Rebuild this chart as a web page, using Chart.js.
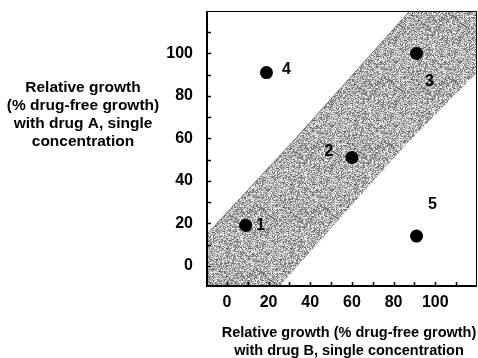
<!DOCTYPE html>
<html>
<head>
<meta charset="utf-8">
<script src="https://cdn.jsdelivr.net/npm/chart.js@4/dist/chart.umd.min.js"></script>
<style>
  html, body { margin: 0; padding: 0; background: #fff; }
  canvas { display: block; }
</style>
</head>
<body>
<canvas id="myChart" width="478" height="358"></canvas>
<script>
// ---- data ----
const pointNames = ['1', '2', '3', '4', '5'];
const pointX = [9, 60, 91, 19, 91];
const pointY = [19, 51, 100, 91, 14];

// shaded band (edges of the gray strip)
const bandX = [-10, 33, 85, 120];
const bandUpper = [14.4, 60, 117, 155];
const bandLower = [-48.7, -1.1, 56.2, 91];

const xTickLabels = [0, 20, 40, 60, 80, 100];
const yTickLabels = [0, 20, 40, 60, 80, 100];
const minorTicks = [0, 10, 20, 30, 40, 50, 60, 70, 80, 90, 100, 110];

const xTitle = ['Relative growth (% drug-free growth)', 'with drug B, single concentration'];
const yTitle = ['Relative growth', '(% drug-free growth)', 'with drug A, single', 'concentration'];

// ---- style ----
const labelOffsets = [[15, 0], [-23, -6], [13, 28], [20, -3], [16, -31]];
const fontFamily = '"Liberation Sans", Arial, Helvetica, sans-serif';

// stipple texture for the band
function makeStipple() {
    const c = document.createElement('canvas');
    c.width = 64; c.height = 64;
    const g = c.getContext('2d');
    const img = g.createImageData(64, 64);
    for (let y = 0; y < 64; y++) {
        for (let x = 0; x < 64; x++) {
            let h = (x * 374761393 + y * 668265263) >>> 0;
            h = ((h ^ (h >>> 13)) * 1274126177) >>> 0;
            const v = 100 + (h % 156);
            const i = (y * 64 + x) * 4;
            img.data[i] = v; img.data[i + 1] = v; img.data[i + 2] = v; img.data[i + 3] = 255;
        }
    }
    g.putImageData(img, 0, 0);
    return g.createPattern(c, 'repeat');
}

function noPadding(s) {
    s.paddingTop = 0; s.paddingBottom = 0; s.paddingLeft = 0; s.paddingRight = 0;
}

// box, inward ticks, point numbers, titles
const decorations = {
    id: 'decorations',
    afterDatasetsDraw(chart) {
        const ctx = chart.ctx;
        const a = chart.chartArea;
        const xs = chart.scales.x, ys = chart.scales.y;
        ctx.save();
        ctx.strokeStyle = '#000';

        // ticks pointing into the plot
        ctx.lineWidth = 1.5;
        minorTicks.forEach(v => {
            const px = Math.round(xs.getPixelForValue(v)) + 0.5;
            ctx.beginPath(); ctx.moveTo(px, a.bottom); ctx.lineTo(px, a.bottom - 5); ctx.stroke();
            const py = Math.round(ys.getPixelForValue(v)) + 0.5;
            ctx.beginPath(); ctx.moveTo(a.left, py); ctx.lineTo(a.left + 5, py); ctx.stroke();
        });

        // frame
        ctx.lineWidth = 1;
        ctx.beginPath(); ctx.moveTo(a.left, a.top + 0.5); ctx.lineTo(a.right, a.top + 0.5); ctx.stroke();
        ctx.beginPath(); ctx.moveTo(a.right - 0.5, a.top); ctx.lineTo(a.right - 0.5, a.bottom); ctx.stroke();
        ctx.lineWidth = 2;
        ctx.beginPath(); ctx.moveTo(a.left + 1, a.top); ctx.lineTo(a.left + 1, a.bottom); ctx.stroke();
        ctx.beginPath(); ctx.moveTo(a.left, a.bottom - 1); ctx.lineTo(a.right, a.bottom - 1); ctx.stroke();

        // point numbers
        ctx.fillStyle = '#000';
        ctx.font = 'bold 16px ' + fontFamily;
        ctx.textAlign = 'center';
        ctx.textBaseline = 'middle';
        pointNames.forEach((n, i) => {
            const px = xs.getPixelForValue(pointX[i]) + labelOffsets[i][0];
            const py = ys.getPixelForValue(pointY[i]) + labelOffsets[i][1];
            ctx.fillText(n, px, py);
        });

        // horizontal y-axis title
        ctx.font = 'bold 15.5px ' + fontFamily;
        yTitle.forEach((t, i) => ctx.fillText(t, 83, 88 + i * 18));

        // x-axis title
        ctx.font = 'bold 14.5px ' + fontFamily;
        xTitle.forEach((t, i) => ctx.fillText(t, 349, 333 + i * 17.5));
        ctx.restore();
    }
};

const ctx = document.getElementById('myChart');

new Chart(ctx, {
    type: 'scatter',
    data: {
        datasets: [{
            data: pointX.map((x, i) => ({ x: x, y: pointY[i] })),
            pointRadius: 6.5,
            pointBackgroundColor: '#000',
            pointBorderColor: '#000',
            pointBorderWidth: 0,
        }, {
            type: 'line',
            data: bandX.map((x, i) => ({ x: x, y: bandUpper[i] })),
            borderColor: 'rgba(60,60,60,0.6)',
            borderWidth: 1,
            pointRadius: 0,
            fill: false,
        }, {
            type: 'line',
            data: bandX.map((x, i) => ({ x: x, y: bandLower[i] })),
            borderColor: 'rgba(0,0,0,0)',
            borderWidth: 0,
            pointRadius: 0,
            fill: '-1',
            backgroundColor: makeStipple(),
        }]
    },
    options: {
        responsive: false,
        animation: false,
        devicePixelRatio: 1,
        layout: { autoPadding: false, padding: { top: 11, right: 1, left: 0, bottom: 0 } },
        plugins: {
            legend: { display: false },
            tooltip: { enabled: false },
        },
        scales: {
            x: {
                min: -10, max: 120,
                afterBuildTicks: s => { s.ticks = xTickLabels.map(v => ({ value: v })); },
                afterFit: s => { s.height = 71; noPadding(s); },
                grid: { display: false, drawTicks: false },
                border: { display: false },
                ticks: {
                    padding: 6,
                    color: '#000',
                    maxRotation: 0,
                    font: { family: fontFamily, size: 16, weight: 'bold' },
                },
            },
            y: {
                min: -10, max: 120,
                afterBuildTicks: s => { s.ticks = yTickLabels.map(v => ({ value: v })); },
                afterFit: s => { s.width = 206; noPadding(s); },
                grid: { display: false, drawTicks: false },
                border: { display: false },
                ticks: {
                    padding: 13,
                    color: '#000',
                    font: { family: fontFamily, size: 16, weight: 'bold' },
                },
            }
        }
    },
    plugins: [decorations]
});
</script>
</body>
</html>
